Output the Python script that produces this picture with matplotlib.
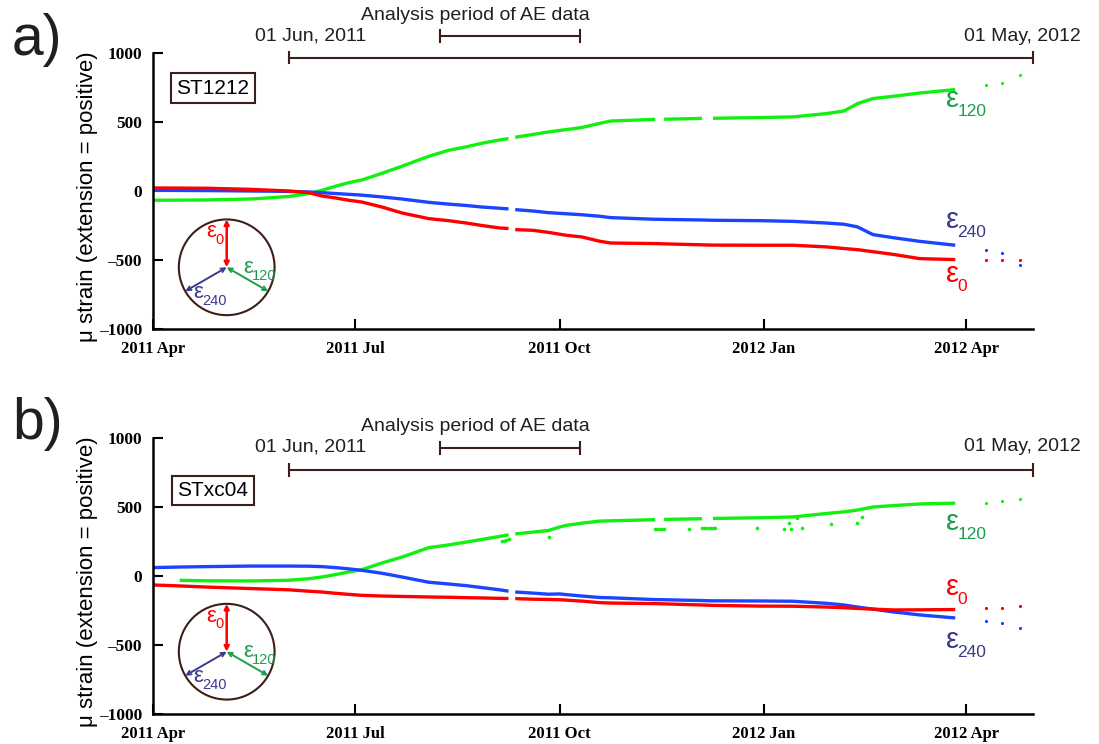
import numpy as np
import pandas as pd
import matplotlib
matplotlib.use('Agg')
import matplotlib.pyplot as plt
from matplotlib.patches import Circle

# ---- data ----
nan = np.nan
dates_a = ['2011-04-01', '2011-04-25', '2011-05-15', '2011-06-01', '2011-06-10', '2011-06-16',
           '2011-06-22', '2011-06-28', '2011-07-04', '2011-07-13', '2011-07-22', '2011-08-03',
           '2011-08-12', '2011-08-20', '2011-08-27', '2011-09-04', '2011-09-08', '2011-09-09',
           '2011-09-11', '2011-09-19', '2011-09-26', '2011-10-04', '2011-10-11', '2011-10-19',
           '2011-10-24', '2011-11-13', '2011-11-15', '2011-11-17', '2011-12-04', '2011-12-06',
           '2011-12-09', '2011-12-30', '2012-01-14', '2012-01-29', '2012-02-06', '2012-02-12',
           '2012-02-19', '2012-02-28', '2012-03-11', '2012-03-27']
a_e0 = [22, 20, 12, 0, -12, -36, -50, -67, -80, -116, -159, -200, -215, -232, -250, -268, -272, nan,
        -280, -285, -300, -321, -333, -364, -377, -381, -382, -383, -390, -391, -392, -393, -393,
        -405, -417, -425, -440, -459, -490, -497]
a_e240 = [5, 3, 0, -3, -7, -12, -18, -24, -30, -43, -58, -82, -95, -105, -116, -125, -130, nan,
          -135, -145, -157, -165, -172, -183, -193, -205, -205, -206, -210, -211, -212, -215, -220,
          -232, -241, -260, -316, -338, -365, -393]
a_e120 = [-67, -65, -58, -40, -19, 5, 34, 60, 80, 128, 179, 251, 295, 320, 346, 370, 380, nan,
          389, 410, 428, 445, 460, 490, 507, 519, nan, 520, 526, nan, 527, 532, 537, 561, 580, 633,
          670, 686, 710, 735]

dates_b = ['2011-04-01', '2011-04-13', '2011-04-25', '2011-05-15', '2011-06-01', '2011-06-10',
           '2011-06-16', '2011-06-22', '2011-06-28', '2011-07-04', '2011-07-13', '2011-07-22',
           '2011-08-03', '2011-08-12', '2011-08-20', '2011-08-27', '2011-09-04', '2011-09-08',
           '2011-09-09', '2011-09-11', '2011-09-19', '2011-09-26', '2011-10-01', '2011-10-04',
           '2011-10-11', '2011-10-19', '2011-10-24', '2011-11-13', '2011-11-15', '2011-11-17',
           '2011-12-04', '2011-12-06', '2011-12-09', '2011-12-30', '2012-01-14', '2012-01-29',
           '2012-02-06', '2012-02-12', '2012-02-19', '2012-02-28', '2012-03-11', '2012-03-27']
b_e0 = [-65, -72, -80, -91, -100, -110, -116, -125, -133, -140, -145, -148, -152, -154, -157, -159,
        -162, -163, nan, -164, -168, -170, -172, -175, -182, -193, -196, -200, -201, -202, -210,
        -211, -213, -218, -219, -225, -230, -235, -240, -246, -245, -243]
b_e240 = [61, 65, 68, 72, 72, 71, 68, 61, 52, 41, 20, -7, -45, -58, -70, -84, -100, -110, nan,
          -116, -124, -132, -130, -135, -145, -156, -158, -171, -171, -172, -178, -179, -180, -181,
          -183, -198, -210, -225, -240, -260, -282, -304]
b_e120 = [nan, -31, -35, -36, -31, -20, -7, 10, 29, 46, 94, 137, 205, 225, 246, 265, 287, 298, nan,
          305, 318, 330, 355, 367, 383, 398, 400, 408, nan, 410, 415, nan, 417, 422, 428, 453, 465,
          478, 500, 510, 522, 528]
b_out_dates = ['2011-09-05', '2011-09-06', '2011-09-07', '2011-09-08', '2011-09-26',
               '2011-11-13', '2011-11-14', '2011-11-15', '2011-11-16', '2011-11-17', '2011-11-28',
               '2011-12-04', '2011-12-05', '2011-12-06', '2011-12-07', '2011-12-08', '2011-12-09',
               '2011-12-10', '2011-12-29', '2012-01-10', '2012-01-12', '2012-01-13', '2012-01-16',
               '2012-01-18', '2012-01-31', '2012-02-12', '2012-02-14']
b_out_e120 = [252, 256, 260, 265, 282, 343, 343, 343, 343, 343, 343, 345, 345, 345, 345, 345, 345,
              345, 347, 340, 381, 340, 422, 347, 374, 383, 427]

tail_dates = ['2012-04-10', '2012-04-17', '2012-04-25']
a_tail_e0 = [-497, -502, -497]
a_tail_e240 = [-430, -447, -533]
a_tail_e120 = [766, 785, 843]
b_tail_e0 = [-231, -231, -219]
b_tail_e240 = [-328, -344, -380]
b_tail_e120 = [530, 540, 560]

xtick_dates = ['2011-04-01', '2011-07-01', '2011-10-01', '2012-01-01', '2012-04-01']
xtick_labels = ['2011 Apr', '2011 Jul', '2011 Oct', '2012 Jan', '2012 Apr']
ytick_vals = [-1000, -500, 0, 500, 1000]
ytick_labels = ['\u20131000', '\u2013500', '0', '500', '1000']

RED = '#ff0000'
GREEN = '#11f011'
BLUE = '#1a44ff'
LGREEN = '#1d9e4e'
LBLUE = '#3b3b8c'
BROWN = '#3d1f1a'
SANS = 'Liberation Sans'
SERIF = 'Liberation Serif'

fig = plt.figure(figsize=(10.99, 7.44), dpi=100)
L, W = 153 / 1099, 880 / 1099
H = 276 / 744
ax_a = fig.add_axes([L, 1 - 329 / 744, W, H])
ax_b = fig.add_axes([L, 1 - 714 / 744, W, H])

D = pd.to_datetime


def eps(ax, x, y, sub, color, big, small, dx, dy):
    # greek epsilon with a subscript, epsilon drawn larger like in the original
    ax.text(x, y, '\u03b5', color=color, fontfamily=SANS, fontsize=big, ha='left', va='baseline')
    ax.annotate(sub, (x, y), xytext=(dx, dy), textcoords='offset points', color=color,
                fontfamily=SANS, fontsize=small, ha='left', va='baseline')


def panel(ax, dates, e0, e120, e240, tails, station, lab_y, brk):
    d = D(dates)
    ax.plot(d, e120, color=GREEN, lw=2.4, solid_capstyle='butt')
    ax.plot(d, e240, color=BLUE, lw=2.4, solid_capstyle='butt')
    ax.plot(d, e0, color=RED, lw=2.4, solid_capstyle='butt')
    td = D(tail_dates)
    for vals, c in zip(tails, [RED, GREEN, BLUE]):
        ax.plot(td, vals, 'o', ms=2.3, color=c, mec='none')

    ax.set_xlim(D('2011-04-01'), D('2012-05-01'))
    ax.set_ylim(-1000, 1000)
    ax.set_xticks(D(xtick_dates))
    ax.set_xticklabels(xtick_labels, fontfamily=SERIF, fontweight='bold', fontsize=12)
    ax.set_yticks(ytick_vals)
    ax.set_yticklabels(ytick_labels, fontfamily=SERIF, fontweight='bold', fontsize=12.5)
    ax.tick_params(direction='in', length=7, width=1.5)
    ax.tick_params(axis='x', pad=9)
    ax.tick_params(axis='y', pad=8)
    for s in ['top', 'right']:
        ax.spines[s].set_visible(False)
    for s in ['left', 'bottom']:
        ax.spines[s].set_linewidth(1.8)
    ax.set_ylabel('\u03bc strain (extension = positive)', fontfamily=SANS, fontsize=16)
    ax.yaxis.set_label_coords(-0.063, 0.48)

    # station box
    ax.text(D('2011-04-28'), lab_y, station, fontfamily=SANS, fontsize=15, ha='center', va='center',
            bbox=dict(boxstyle='square,pad=0.25', fc='white', ec=BROWN, lw=1.5))

    # period brackets
    y_main, y_ae, y_ae_txt, y_jun_txt, cap = brk
    jun1, may1 = D('2011-06-01'), D('2012-05-01')
    ae0, ae1 = D('2011-08-08'), D('2011-10-10')
    kw = dict(color=BROWN, lw=1.5, clip_on=False)
    ax.plot([jun1, may1], [y_main, y_main], **kw)
    ax.plot([jun1, jun1], [y_main - cap, y_main + cap], **kw)
    ax.plot([may1, may1], [y_main - cap, y_main + cap], **kw)
    ax.plot([ae0, ae1], [y_ae, y_ae], **kw)
    ax.plot([ae0, ae0], [y_ae - cap, y_ae + cap], **kw)
    ax.plot([ae1, ae1], [y_ae - cap, y_ae + cap], **kw)
    tk = dict(fontfamily=SANS, fontsize=14, color='#231f20', ha='center', va='center', clip_on=False)
    ax.text(D('2011-08-24'), y_ae_txt, 'Analysis period of AE data', **tk)
    ax.text(D('2011-06-11'), y_jun_txt, '01 Jun, 2011', **tk)
    ax.text(D('2012-04-26'), y_jun_txt, '01 May, 2012', **tk)


panel(ax_a, dates_a, a_e0, a_e120, a_e240, [a_tail_e0, a_tail_e120, a_tail_e240], 'ST1212', 745,
      (967, 1121, 1270, 1121, 43))
panel(ax_b, dates_b, b_e0, b_e120, b_e240, [b_tail_e0, b_tail_e120, b_tail_e240], 'STxc04', 620,
      (771, 928, 1085, 938, 43))
ax_b.plot(D(b_out_dates), b_out_e120, 'o', ms=2.6, color=GREEN, mec='none')

# curve labels
lx = D('2012-03-23')
for ax, y120, y240, y0 in [(ax_a, 606, -270, -662), (ax_b, 330, -523, -140)]:
    eps(ax, lx, y120, '120', LGREEN, 21, 12.5, 8, -6)
    eps(ax, lx, y240, '240', LBLUE, 21, 12.5, 8, -6)
    eps(ax, lx, y0, '0', RED, 21, 12.5, 8, -6)


# strain gauge orientation insets
def gauge(cy_px):
    s = 112
    ins = fig.add_axes([(226.7 - s / 2) / 1099, 1 - (cy_px + s / 2) / 744, s / 1099, s / 744])
    ins.set_xlim(-1.17, 1.17)
    ins.set_ylim(-1.17, 1.17)
    ins.axis('off')
    ins.add_patch(Circle((0, 0), 1.0, fill=False, ec=BROWN, lw=1.5))
    c30, s30 = np.cos(np.pi / 6), np.sin(np.pi / 6)
    for (ex, ey), c, lw in [((0, 1), RED, 1.8), ((c30, -s30), LGREEN, 1.4), ((-c30, -s30), LBLUE, 1.4)]:
        ins.annotate('', xy=(ex, ey), xytext=(0, 0),
                     arrowprops=dict(arrowstyle='<->', color=c, lw=lw, shrinkA=0, shrinkB=0,
                                     mutation_scale=7))
    eps(ins, -0.43, 0.63, '0', RED, 16, 10.5, 6.5, -5)
    eps(ins, 0.34, -0.12, '120', LGREEN, 16, 10.5, 6.5, -5)
    eps(ins, -0.70, -0.64, '240', LBLUE, 16, 10.5, 6.5, -5)


gauge(267.3)
gauge(651.7)

fig.text(12 / 1099, 1 - 55 / 744, 'a)', fontfamily=SANS, fontsize=41, va='baseline', color='#231f20')
fig.text(12 / 1099, 1 - 439 / 744, 'b)', fontfamily=SANS, fontsize=41, va='baseline', color='#231f20')

fig.savefig('out.png', dpi=100)
